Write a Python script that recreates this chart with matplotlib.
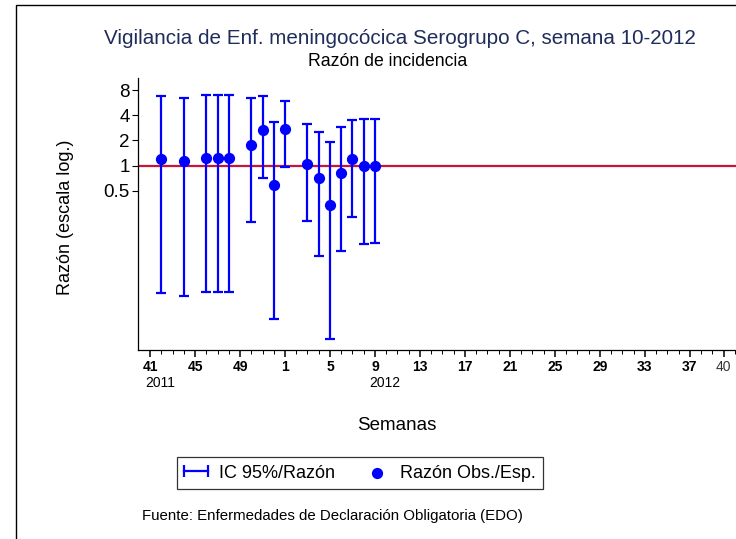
import matplotlib
matplotlib.use("Agg")
import matplotlib.pyplot as plt
from matplotlib.patches import Rectangle
from matplotlib.lines import Line2D
from matplotlib.legend_handler import HandlerBase

plt.rcParams["font.family"] = ["Liberation Sans", "DejaVu Sans"]

# weeks observed (2011 tail + 2012 start)
weeks_2011 = [42, 44, 46, 47, 48, 50, 51, 52]
weeks_2012 = [1, 3, 4, 5, 6, 7, 8, 9]
ratio = [1.20, 1.14, 1.25, 1.25, 1.25, 1.78, 2.67, 0.59,
         2.72, 1.06, 0.71, 0.34, 0.81, 1.20, 0.98, 1.00]
ci_low = [0.030, 0.028, 0.031, 0.031, 0.031, 0.214, 0.72, 0.0149,
          0.97, 0.217, 0.084, 0.0085, 0.097, 0.244, 0.117, 0.12]
ci_high = [6.80, 6.39, 7.05, 7.05, 7.05, 6.49, 6.86, 3.35,
           5.93, 3.15, 2.55, 1.92, 2.92, 3.51, 3.58, 3.64]

tick_labels = ["41", "45", "49", "1", "5", "9", "13", "17", "21", "25", "29", "33", "37"]
y_ticks = [0.5, 1, 2, 4, 8]

# position on the axis: week 41 of 2011 -> 0
x = [w - 41 for w in weeks_2011] + [w + 11 for w in weeks_2012]

BLUE = "#0000ff"


class HandlerCapLine(HandlerBase):
    """horizontal |--| symbol filling the whole handle box"""
    def create_artists(self, legend, orig_handle, xdescent, ydescent, width, height,
                       fontsize, trans):
        y = (height - ydescent) / 2
        x0, x1 = -xdescent, -xdescent + width
        line = Line2D([x0, x1], [y, y], color=BLUE, lw=1.6)
        caps = Line2D([x0, x1], [y, y], ls="none", marker="|", markersize=9,
                      markeredgewidth=1.6, color=BLUE)
        line.set_transform(trans)
        caps.set_transform(trans)
        return [line, caps]


W, H = 736, 539
fig = plt.figure(figsize=(W / 100, H / 100), dpi=100)
ax = fig.add_axes([138 / W, 1 - 350 / H, 1 - 138 / W, (350 - 78) / H])

ax.axhline(1, color="#c8143c", lw=1.6, zorder=1)
yerr = [[r - lo for r, lo in zip(ratio, ci_low)], [hi - r for r, hi in zip(ratio, ci_high)]]
ax.errorbar(x, ratio, yerr=yerr, fmt="none", ecolor=BLUE, elinewidth=1.6,
            capsize=3.6, capthick=1.6, zorder=2)
pts = ax.scatter(x, ratio, s=50, color=BLUE, zorder=3, label="Razón Obs./Esp.")

ax.set_yscale("log")
ax.set_ylim(2 ** -7.314, 2 ** 3.48)
ax.set_yticks(y_ticks)
ax.set_yticklabels(["0.5", "1", "2", "4", "8"], fontsize=13.5)
ax.minorticks_off()
ax.tick_params(axis="y", length=4, width=0.8, pad=2)

ax.set_xlim(-1.07, 52.1)
major = list(range(0, 49, 4)) + [51]
ax.set_xticks(major)
ax.set_xticklabels(tick_labels + ["40"], fontsize=10)
for lab in ax.get_xticklabels()[:-1]:
    lab.set_fontweight("bold")
ax.get_xticklabels()[-1].set_color("#333333")
ax.set_xticks(range(0, 53), minor=True)
ax.tick_params(axis="x", which="major", length=5, width=1.1, pad=2)
ax.tick_params(axis="x", which="minor", length=3, width=0.7)

for s in ("top", "right"):
    ax.spines[s].set_visible(False)
for s in ("left", "bottom"):
    ax.spines[s].set_linewidth(0.9)

xt = ax.get_xaxis_transform()
ax.text(0.9, -0.122, "2011", transform=xt, ha="center", va="center", fontsize=10)
ax.text(20.9, -0.122, "2012", transform=xt, ha="center", va="center", fontsize=10)

fig.text(399.5 / W, 1 - 44 / H, "Vigilancia de Enf. meningocócica Serogrupo C, semana 10-2012",
         ha="center", va="baseline", fontsize=14.9, color="#1f2d5a")
fig.text(388 / W, 1 - 61 / H, "Razón de incidencia", ha="center", va="center", fontsize=12.7)
fig.text(397 / W, 1 - 425 / H, "Semanas", ha="center", va="center", fontsize=13.5)
fig.text(66 / W, 1 - 217 / H, "Razón (escala log.)", ha="center", va="center",
         rotation=90, fontsize=13)
fig.text(142 / W, 1 - 516 / H, "Fuente: Enfermedades de Declaración Obligatoria (EDO)",
         ha="left", va="center", fontsize=10.8)

err_handle = Line2D([], [], color=BLUE, label="IC 95%/Razón")
leg = fig.legend(handles=[err_handle, pts], loc="center", ncol=2,
                 bbox_to_anchor=(360 / W, 1 - 473 / H), bbox_transform=fig.transFigure,
                 fontsize=13, frameon=True, fancybox=False, edgecolor="black",
                 scatterpoints=1, handlelength=1.33, columnspacing=1.7,
                 handletextpad=0.6, borderpad=0.4,
                 handler_map={err_handle: HandlerCapLine()})
leg.get_frame().set_linewidth(0.9)

fig.patches.append(Rectangle((16 / W, -0.5), 2, 0.5 + 1 - 5 / H, transform=fig.transFigure,
                             fill=False, ec="black", lw=1.0, figure=fig))

fig.savefig("out.png", dpi=100)
